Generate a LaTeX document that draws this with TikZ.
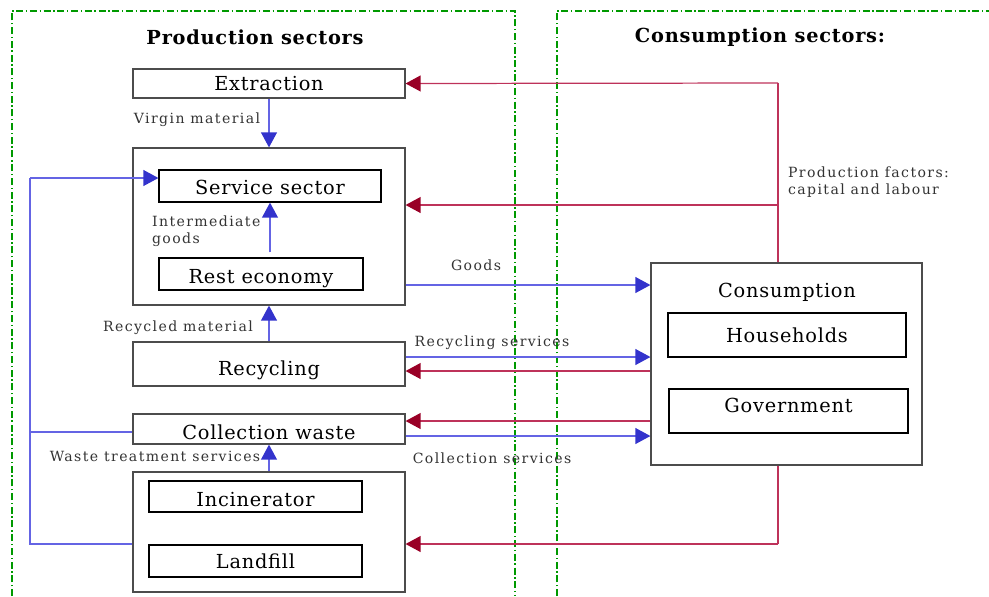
\documentclass[tikz,border=0pt]{standalone}
\usepackage{fontspec}
\setmainfont[LetterSpace=4]{DejaVu Serif}
\newfontfamily\lblfont[LetterSpace=10]{DejaVu Serif}
\usepackage{tikz}
\usetikzlibrary{arrows.meta}

\definecolor{arrblue}{RGB}{51,51,204}
\definecolor{lineblue}{RGB}{100,100,228}
\definecolor{arrred}{RGB}{153,0,38}
\definecolor{linered}{RGB}{190,50,90}
\definecolor{zonegreen}{RGB}{0,153,0}

\begin{document}
\begin{tikzpicture}[x=0.02cm,y=-0.02cm,
	box/.style={draw=black!70,line width=0.7pt,inner ysep=1pt,font=\fontsize{11}{13}\selectfont},
	inbox/.style={draw=black,line width=0.7pt,inner ysep=1pt,font=\fontsize{11}{13}\selectfont},
	lower/.style={text height=#1},
	lbl/.style={text=black!80,font=\lblfont\fontsize{8}{10}\selectfont,inner sep=1pt},
	blueline/.style={draw=lineblue,line width=0.7pt},
	bluearrow/.style={blueline,-{Triangle[length=8.5pt,width=9pt,color=arrblue]}},
	redline/.style={draw=linered,line width=0.7pt},
	redarrow/.style={redline,-{Triangle[length=8.5pt,width=9pt,color=arrred]}},
	zone/.style={draw=zonegreen,line width=1.1pt,dash pattern=on 4pt off 1.5pt on 0.8pt off 1.5pt}]
	\useasboundingbox (0,0) rectangle (989,596);
	% sector zones
	\draw[zone] (12,596) -- (12,11) -- (515,11) -- (515,596);
	\draw[zone] (557,596) -- (557,11) -- (989,11);
	\node[font=\bfseries\fontsize{11}{13}\selectfont] (ptitle) at (255,37) {Production sectors};
	\node[font=\bfseries\fontsize{11}{13}\selectfont] (ctitle) at (760,37) {Consumption sectors:};
	% production side
	\node[box,minimum width=5.44cm,minimum height=0.58cm] (extr) at (269,83.5) {Extraction};
	\node[box,minimum width=5.44cm,minimum height=3.14cm] (main) at (269,226.5) {};
	\node[inbox,lower=10pt,minimum width=4.44cm,minimum height=0.64cm] (serv) at (270,186) {Service sector};
	\node[inbox,lower=13pt,minimum width=4.08cm,minimum height=0.64cm] (rest) at (261,274) {Rest economy};
	\node[box,lower=16pt,minimum width=5.44cm,minimum height=0.88cm] (recy) at (269,364) {Recycling};
	\node[box,lower=12pt,minimum width=5.44cm,minimum height=0.60cm] (coll) at (269,429) {Collection waste};
	\node[box,minimum width=5.44cm,minimum height=2.40cm] (disp) at (269,532) {};
	\node[inbox,lower=12pt,minimum width=4.26cm,minimum height=0.62cm] (inc) at (255.5,496.5) {Incinerator};
	\node[inbox,minimum width=4.26cm,minimum height=0.64cm] (land) at (255.5,561) {Landfill};
	% consumption side
	\node[box,minimum width=5.42cm,minimum height=4.04cm] (cons) at (786.5,364) {};
	\node[font=\fontsize{11}{13}\selectfont] (constitle) at (787,292) {Consumption};
	\node[inbox,minimum width=4.76cm,minimum height=0.88cm] (hous) at (787,335) {Households};
	\node[inbox,text depth=7pt,minimum width=4.78cm,minimum height=0.88cm] (gov) at (788.5,411) {Government};
	% flows inside production
	\draw[bluearrow] (extr.south) -- (main.north);
	\node[lbl] (virgin) at (197,120) {Virgin material};
	\draw[bluearrow] (rest.north -| serv.south) ++(0,-5) -- (serv.south);
	\node[lbl,align=left,anchor=west] (interm) at (150,231) {Intermediate\\goods};
	\draw[bluearrow] (recy.north) -- (main.south);
	\node[lbl] (recmat) at (178,328) {Recycled material};
	\draw[bluearrow] (disp.north) -- (coll.south);
	\node[lbl] (wastetr) at (155,456) {Waste treatment services};
	% return of waste services to the service sector
	\coordinate (lb) at (30,544);
	\coordinate (lt) at (30,178);
	\draw[blueline] (disp.west |- lb) -- (lb) -- (lt);
	\draw[bluearrow] (lt) -- (lt -| serv.west);
	\draw[blueline] (coll.west |- 0,432) -- (lt |- 0,432);
	% flows between sectors
	\draw[bluearrow] (main.east |- 0,285) -- (cons.west |- 0,285);
	\node[lbl] (goods) at (476,265) {Goods};
	\draw[bluearrow] (recy.east |- 0,357) -- (cons.west |- 0,357);
	\node[lbl] (recserv) at (492,343) {Recycling services};
	\draw[redarrow] (cons.west |- 0,371) -- (recy.east |- 0,371);
	\draw[redarrow] (cons.west |- 0,421) -- (coll.east |- 0,421);
	\draw[bluearrow] (coll.east |- 0,436) -- (cons.west |- 0,436);
	\node[lbl] (collserv) at (492,458) {Collection services};
	% production factors
	\coordinate (ftop) at (778,83);
	\coordinate (fbot) at (778,544);
	\draw[redline] (cons.north -| ftop) -- (ftop);
	\draw[redarrow] (ftop) -- (extr.east);
	\draw[redarrow] (ftop |- 0,205) -- (main.east |- 0,205);
	\node[lbl,align=left,anchor=west] (factors) at (786,182) {Production factors:\\capital and labour};
	\draw[redline] (cons.south -| fbot) -- (fbot);
	\draw[redarrow] (fbot) -- (disp.east |- fbot);
\end{tikzpicture}
\end{document}
